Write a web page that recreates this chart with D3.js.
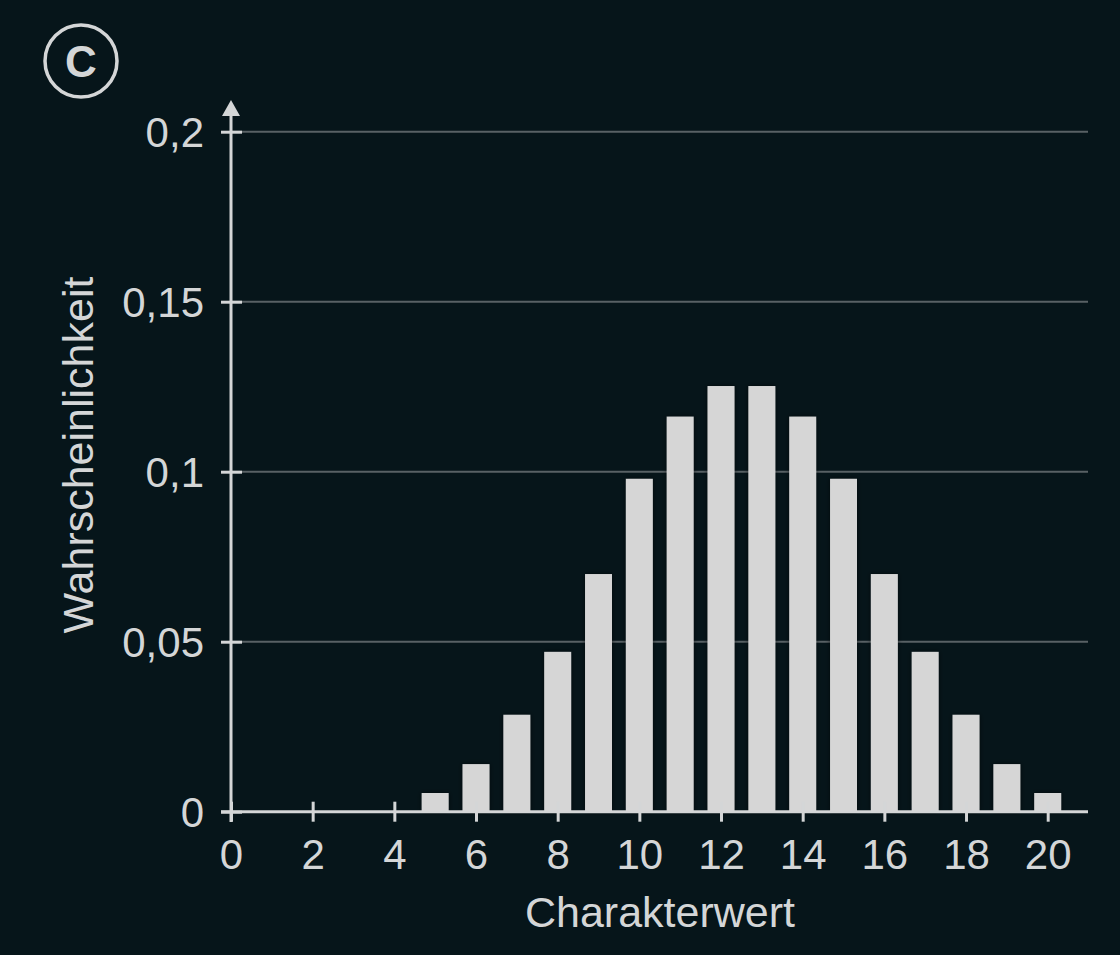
<!DOCTYPE html>
<html>
<head>
<meta charset="utf-8">
<script src="https://cdn.jsdelivr.net/npm/d3@7/dist/d3.min.js"></script>
<style>
  html, body { margin: 0; padding: 0; background: #06151a; }
  svg { display: block; }
</style>
</head>
<body>
<script>
const categories = [5, 6, 7, 8, 9, 10, 11, 12, 13, 14, 15, 16, 17, 18, 19, 20];
const probabilities = [0.0055, 0.014, 0.0285, 0.047, 0.0699, 0.0979, 0.1162, 0.1252,
                       0.1252, 0.1162, 0.0979, 0.0699, 0.047, 0.0285, 0.014, 0.0055];
const xTicks = [0, 2, 4, 6, 8, 10, 12, 14, 16, 18, 20];
const yTicks = [0, 0.05, 0.1, 0.15, 0.2];
const yTickLabels = ["0", "0,05", "0,1", "0,15", "0,2"];
const xTitle = "Charakterwert";
const yTitle = "Wahrscheinlichkeit";
const panelLabel = "C";

const W = 1120, H = 955;
const fg = "#d4d6d7";
const font = "'Liberation Sans', Arial, Helvetica, sans-serif";

const svg = d3.select("body").append("svg").attr("width", W).attr("height", H);
svg.append("rect").attr("width", W).attr("height", H).attr("fill", "#06151a");

const x = d3.scaleLinear().domain([0, 20]).range([231, 1047.7]);
const y = d3.scaleLinear().domain([0, 0.2]).range([811.7, 131.7]);
const xRight = 1088;

// gridlines
svg.append("g").selectAll("line").data(yTicks.filter(d => d > 0)).join("line")
  .attr("x1", x(0)).attr("x2", xRight)
  .attr("y1", d => y(d)).attr("y2", d => y(d))
  .attr("stroke", "#586165").attr("stroke-width", 2);

// bars
const bw = (x(1) - x(0)) * 0.66;
const defs = svg.append("defs");
const f = defs.append("filter").attr("id", "sh").attr("x", "-20%").attr("y", "-20%").attr("width", "140%").attr("height", "140%");
f.append("feDropShadow").attr("dx", 0).attr("dy", 0).attr("stdDeviation", 2.5).attr("flood-color", "#000").attr("flood-opacity", 0.6);

svg.append("g").selectAll("rect").data(categories).join("rect")
  .attr("x", (d) => x(d) - bw / 2)
  .attr("width", bw)
  .attr("y", (d, i) => y(probabilities[i]))
  .attr("height", (d, i) => y(0) - y(probabilities[i]))
  .attr("fill", "#d6d6d6")
  .attr("filter", "url(#sh)");

// x axis
const xAxis = d3.axisBottom(x).tickValues(xTicks).tickSize(0).tickFormat(d => d);
const gx = svg.append("g").attr("transform", `translate(0,${y(0)})`).call(xAxis);
gx.select(".domain").remove();
gx.selectAll(".tick text").attr("fill", fg).attr("font-family", font).attr("font-size", 42).attr("dy", "1.3em");
gx.selectAll(".tick").append("line").attr("y1", -10).attr("y2", 10).attr("stroke", fg).attr("stroke-width", 3);
svg.append("line").attr("x1", 221).attr("x2", xRight).attr("y1", y(0)).attr("y2", y(0))
  .attr("stroke", fg).attr("stroke-width", 3);

// y axis
const yAxis = d3.axisLeft(y).tickValues(yTicks).tickSize(0).tickPadding(27).tickFormat((d, i) => yTickLabels[i]);
const gy = svg.append("g").attr("transform", `translate(${x(0)},0)`).call(yAxis);
gy.select(".domain").remove();
gy.selectAll(".tick text").attr("fill", fg).attr("font-family", font).attr("font-size", 42).attr("dy", "0.36em");
gy.selectAll(".tick").append("line").attr("x1", -10).attr("x2", 11).attr("stroke", fg).attr("stroke-width", 3);
svg.append("line").attr("x1", x(0)).attr("x2", x(0)).attr("y1", 822).attr("y2", 112)
  .attr("stroke", fg).attr("stroke-width", 3);
svg.append("path")
  .attr("d", `M${x(0)},100 L${x(0) - 9},116 L${x(0) + 9},116 Z`)
  .attr("fill", fg);

// titles
svg.append("text").attr("x", 660).attr("y", 927).attr("text-anchor", "middle")
  .attr("fill", fg).attr("font-family", font).attr("font-size", 43).text(xTitle);
svg.append("text").attr("transform", "translate(93,455) rotate(-90)").attr("text-anchor", "middle")
  .attr("fill", fg).attr("font-family", font).attr("font-size", 43).text(yTitle);

// panel label
svg.append("circle").attr("cx", 81).attr("cy", 61).attr("r", 36).attr("fill", "none")
  .attr("stroke", fg).attr("stroke-width", 3.5);
svg.append("text").attr("x", 81).attr("y", 77).attr("text-anchor", "middle")
  .attr("fill", fg).attr("font-family", font).attr("font-weight", "bold").attr("font-size", 44).text(panelLabel);
</script>
</body>
</html>
